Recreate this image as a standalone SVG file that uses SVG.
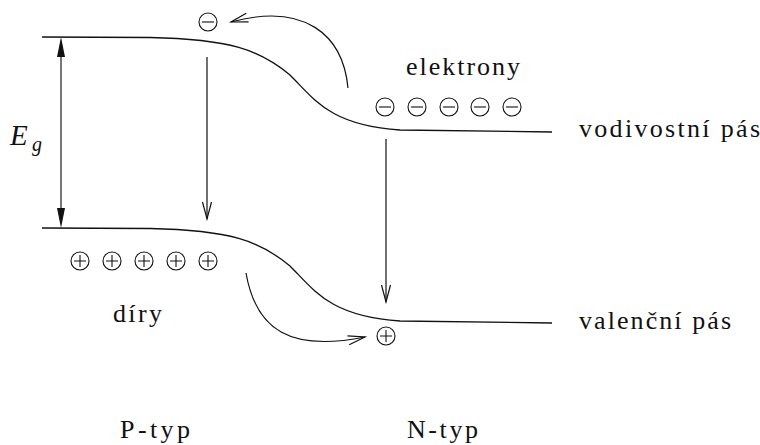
<svg xmlns="http://www.w3.org/2000/svg" width="760" height="445" viewBox="0 0 760 445">
<style>
  .band{fill:none;stroke:#111;stroke-width:1.3}
  .conn{fill:none;stroke:#111;stroke-width:1.2}
  .circ{fill:none;stroke:#111;stroke-width:1.1}
  .t{font-family:"Liberation Serif",serif;font-size:26px;fill:#111}
  .ti{font-family:"Liberation Serif",serif;font-style:italic;fill:#111}
</style>
<defs>
  <marker id="open" markerUnits="userSpaceOnUse" markerWidth="24" markerHeight="14" viewBox="-20 -7 24 14" refX="0" refY="0" orient="auto">
    <path d="M -17 -4.5 L 0 0 L -17 4.5" fill="none" stroke="#111" stroke-width="1.2"/>
  </marker>
  <g id="minus"><circle r="9" class="circ"/><path d="M -6 0 H 6" stroke="#111" stroke-width="1.1"/></g>
  <g id="plus"><circle r="9" class="circ"/><path d="M -6 0 H 6 M 0 -6 V 6" stroke="#111" stroke-width="1.1"/></g>
</defs>
<rect width="760" height="445" fill="#fff"/>

<g id="conduction-band">
  <path class="band" d="M 42 37 L 150 37.5 C 230 39 260 50 290 75 C 315 100 330 125 400 130 L 552 132"/>
  <text class="t" x="579" y="137" textLength="181" lengthAdjust="spacing">vodivostní pás</text>
</g>
<g id="valence-band">
  <path class="band" d="M 42 228 L 150 228.5 C 230 230 260 241 290 266 C 315 291 330 316 400 321 L 552 323"/>
  <text class="t" x="579" y="329" textLength="152" lengthAdjust="spacing">valenční pás</text>
</g>

<g id="gap">
  <line x1="61" y1="55" x2="61" y2="210" stroke="#555" stroke-width="1.6"/>
  <polygon points="61,37 57,57 65,57" fill="#111"/>
  <polygon points="61,228 57,208 65,208" fill="#111"/>
  <text class="ti" x="10" y="145" font-size="29">E</text>
  <text class="ti" x="32" y="151" font-size="20">g</text>
</g>

<g id="electrons">
  <text class="t" x="406" y="75" textLength="114" lengthAdjust="spacing">elektrony</text>
  <use href="#minus" x="385" y="107"/>
  <use href="#minus" x="417" y="107"/>
  <use href="#minus" x="449" y="107"/>
  <use href="#minus" x="480" y="107"/>
  <use href="#minus" x="512" y="107"/>
</g>
<g id="electron-p">
  <use href="#minus" x="208" y="22"/>
</g>

<g id="holes">
  <use href="#plus" x="80" y="261"/>
  <use href="#plus" x="112" y="261"/>
  <use href="#plus" x="144" y="261"/>
  <use href="#plus" x="176" y="261"/>
  <use href="#plus" x="208" y="261"/>
  <text class="t" x="113" y="322" textLength="49" lengthAdjust="spacing">díry</text>
</g>
<g id="hole-n">
  <use href="#plus" x="386" y="336"/>
</g>

<g id="p-type"><text class="t" x="120" y="438" textLength="70" lengthAdjust="spacing">P-typ</text></g>
<g id="n-type"><text class="t" x="407" y="438" textLength="71" lengthAdjust="spacing">N-typ</text></g>

<g id="connectors">
  <line class="conn" x1="207" y1="57" x2="207" y2="219" marker-end="url(#open)"/>
  <line class="conn" x1="386" y1="139" x2="386" y2="302" marker-end="url(#open)"/>
  <path class="conn" d="M 348 88 C 343 35 305 2 231 22" marker-end="url(#open)"/>
  <path class="conn" d="M 246 273 C 256 330 290 352 365 337" marker-end="url(#open)"/>
</g>
</svg>
